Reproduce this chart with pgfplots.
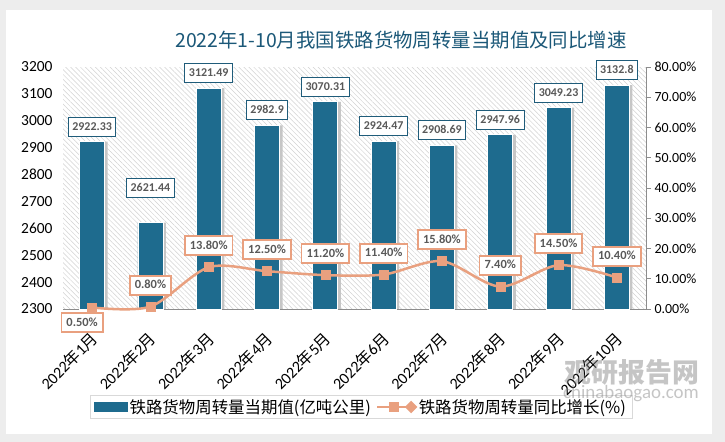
\documentclass[border=0pt]{standalone}
\usepackage{pgfplots}
\pgfplotsset{compat=1.18}
\usepackage{fontspec}
\setmainfont{Carlito}
\newfontfamily\cjk{Noto Sans CJK SC}
\usetikzlibrary{patterns.meta}
\definecolor{barc}{HTML}{1E6B8E}
\definecolor{titlec}{HTML}{1B5878}
\definecolor{linec}{HTML}{E9A07F}
\definecolor{bbord}{HTML}{1F5C7A}
\definecolor{labtext}{HTML}{595959}
\definecolor{axisgray}{HTML}{8C8C8C}
\tikzset{
  lblbar/.style={draw=bbord, line width=1bp, fill=white, text=labtext,
    font=\bfseries\fontsize{12}{12}\selectfont, inner xsep=4bp, inner ysep=4bp,
    text height=9bp, text depth=2bp},
  lblline/.style={draw=linec, line width=1.8bp, fill=white, text=labtext,
    font=\bfseries\fontsize{12.5}{12.5}\selectfont, inner xsep=5bp, inner ysep=4bp,
    text height=9bp, text depth=2bp},
}
\begin{document}
\begin{tikzpicture}[x=1bp,y=1bp]
\fill[gray!14] (0,0) rectangle (725,442);
\fill[white] (6,8) rectangle (712,432);
\node[font=\cjk\fontsize{19.5}{20}\selectfont, text=titlec] at (401,402) {2022年1-10月我国铁路货物周转量当期值及同比增速};
\begin{axis}[
  at={(63bp,133bp)}, anchor=south west, scale only axis,
  width=583bp, height=242bp,
  xmin=-0.5, xmax=9.5, ymin=2300, ymax=3200, ytick distance=100,
  xtick={0,...,9},
  xticklabels={2022{\cjk 年}1{\cjk 月},2022{\cjk 年}2{\cjk 月},2022{\cjk 年}3{\cjk 月},2022{\cjk 年}4{\cjk 月},2022{\cjk 年}5{\cjk 月},2022{\cjk 年}6{\cjk 月},2022{\cjk 年}7{\cjk 月},2022{\cjk 年}8{\cjk 月},2022{\cjk 年}9{\cjk 月},2022{\cjk 年}10{\cjk 月}},
  x tick label style={font=\fontsize{16}{16}\selectfont, xshift=5bp, yshift=-24bp, rotate=45, anchor=east},
  axis x line*=bottom, axis y line*=left,
  axis line style={-},
  y axis line style={draw=none},
  x axis line style={axisgray, line width=0.8bp},
  major tick length=0pt,
  /pgf/number format/assume math mode=true,
  /pgf/number format/1000 sep={},
  yticklabel style={font=\fontsize{15.5}{15.5}\selectfont, xshift=-7bp},
  axis background/.style={pattern={Lines[angle=-45,distance=3.5bp,line width=0.5bp]}, pattern color=gray!35},
  clip=false,
]
\addplot[ybar, bar width=25bp, bar shift=3bp, fill=gray!45, draw=none, forget plot]
  coordinates {(0,2922.33) (1,2621.44) (2,3121.49) (3,2982.9) (4,3070.31) (5,2924.47) (6,2908.69) (7,2947.96) (8,3049.23) (9,3132.8)};
\addplot[ybar, bar width=25bp, bar shift=0bp, fill=barc, draw=white, line width=0.8bp]
  coordinates {(0,2922.33) (1,2621.44) (2,3121.49) (3,2982.9) (4,3070.31) (5,2924.47) (6,2908.69) (7,2947.96) (8,3049.23) (9,3132.8)};
\node[lblbar, anchor=south, yshift=5bp] at (axis cs:0,2922.33) {2922.33};
\node[lblbar, anchor=south, yshift=25bp] at (axis cs:1,2621.44) {2621.44};
\node[lblbar, anchor=south, yshift=5bp] at (axis cs:2,3121.49) {3121.49};
\node[lblbar, anchor=south, yshift=5bp] at (axis cs:3,2982.9) {2982.9};
\node[lblbar, anchor=south, yshift=5bp] at (axis cs:4,3070.31) {3070.31};
\node[lblbar, anchor=south, yshift=5bp] at (axis cs:5,2924.47) {2924.47};
\node[lblbar, anchor=south, yshift=5bp] at (axis cs:6,2908.69) {2908.69};
\node[lblbar, anchor=south, yshift=5bp] at (axis cs:7,2947.96) {2947.96};
\node[lblbar, anchor=south, yshift=5bp] at (axis cs:8,3049.23) {3049.23};
\node[lblbar, anchor=south, yshift=5bp] at (axis cs:9,3132.8) {3132.8};
\end{axis}
\begin{axis}[
  at={(63bp,133bp)}, anchor=south west, scale only axis,
  width=583bp, height=242bp,
  xmin=-0.5, xmax=9.5, ymin=0, ymax=80, ytick distance=10,
  axis x line=none, axis y line*=right,
  axis line style={-},
  y axis line style={axisgray, line width=0.8bp},
  ytick style={axisgray, line width=0.8bp},
  tick align=outside, major tick length=5bp,
  /pgf/number format/assume math mode=true,
  yticklabel={\pgfmathprintnumber[fixed,fixed zerofill,precision=2]{\tick}\%},
  yticklabel style={font=\fontsize{14}{14}\selectfont, xshift=0bp},
  clip=false,
  legend style={at={(0.511,-0.405)}, anchor=center, draw=gray!30, line width=0.6bp,
    font=\cjk\fontsize{16.5}{16.5}\selectfont, inner xsep=4bp, inner ysep=2bp,
    /tikz/every even column/.append style={column sep=3bp}},
  legend columns=2,
]
\addlegendimage{legend image code/.code={\fill[barc] (0bp,-4.5bp) rectangle (33bp,4.5bp);}}
\addlegendentry{铁路货物周转量当期值(亿吨公里)}
\addplot[smooth, color=linec, line width=2.5bp, mark=square*, mark size=4.5bp,
  mark options={fill=linec, draw=linec, line width=0.5bp},
  legend image code/.code={\draw[linec, line width=2.5bp] (0bp,0bp) -- (34bp,0bp);
    \fill[linec] (17bp,0bp) +(-4bp,-4bp) rectangle +(4bp,4bp);
    \fill[linec] (34bp,0bp) +(-4.5bp,0bp) -- +(0bp,4.5bp) -- +(4.5bp,0bp) -- +(0bp,-4.5bp) -- cycle;}]
  coordinates {(0,0.5) (1,0.8) (2,13.8) (3,12.5) (4,11.2) (5,11.4) (6,15.8) (7,7.4) (8,14.5) (9,10.4)};
\addlegendentry{铁路货物周转量同比增长(\%)}
\node[lblline, anchor=north, yshift=-5bp, xshift=-10bp] at (axis cs:0,0.5) {0.50\%};
\node[lblline, anchor=south, yshift=11bp] at (axis cs:1,0.8) {0.80\%};
\node[lblline, anchor=south, yshift=11bp] at (axis cs:2,13.8) {13.80\%};
\node[lblline, anchor=south, yshift=11bp] at (axis cs:3,12.5) {12.50\%};
\node[lblline, anchor=south, yshift=11bp] at (axis cs:4,11.2) {11.20\%};
\node[lblline, anchor=south, yshift=11bp] at (axis cs:5,11.4) {11.40\%};
\node[lblline, anchor=south, yshift=11bp] at (axis cs:6,15.8) {15.80\%};
\node[lblline, anchor=south, yshift=11bp] at (axis cs:7,7.4) {7.40\%};
\node[lblline, anchor=south, yshift=11bp] at (axis cs:8,14.5) {14.50\%};
\node[lblline, anchor=south, yshift=11bp] at (axis cs:9,10.4) {10.40\%};
\end{axis}
\node[font=\cjk\bfseries\fontsize{27}{27}\selectfont, text=gray, opacity=0.45] at (632,70) {观研报告网};
\node[font=\fontsize{19}{19}\selectfont, text=gray, opacity=0.45] at (631,48) {chinabaogao.com};
\end{tikzpicture}
\end{document}
